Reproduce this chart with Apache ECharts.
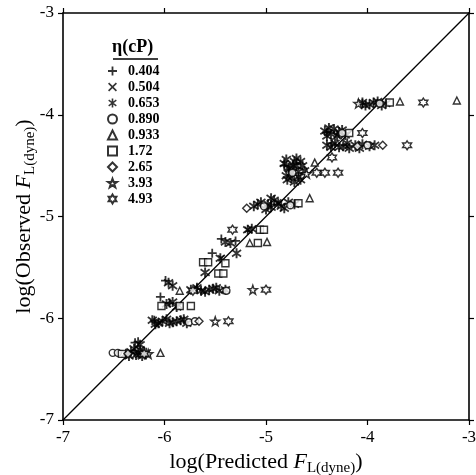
<!DOCTYPE html>
<html><head><meta charset="utf-8">
<script src="https://cdn.jsdelivr.net/npm/echarts@6/dist/echarts.min.js"></script>
<style>html,body{margin:0;padding:0;background:#fff}#c{width:476px;height:475px}</style>
</head><body><div id="c"></div>
<script>
const etaNames = ['0.404','0.504','0.653','0.890','0.933','1.72','2.65','3.93','4.93'];
const ticks = [-7,-6,-5,-4,-3];
const diag = [[-7,-7],[-3,-3]];
const s0404 = [[-6.29,-6.24],[-6.26,-6.23],[-6.20,-6.33],[-6.04,-5.79],[-5.99,-5.63],[-5.95,-5.85],[-6.10,-6.02],[-5.53,-5.36],[-5.44,-5.22],[-5.68,-5.71],[-5.30,-5.24],[-4.95,-4.88],[-4.82,-4.50],[-4.40,-4.17],[-4.35,-4.28],[-4.05,-3.89]];
const s0504 = [[-6.26,-6.36],[-6.05,-6.04],[-5.86,-5.87],[-5.62,-5.73],[-5.44,-5.41],[-5.18,-5.13],[-4.88,-4.86],[-4.75,-4.58],[-4.30,-4.20],[-4.20,-4.31],[-3.90,-3.89]];
const s0653 = [[-6.38,-6.35],[-6.33,-6.33],[-6.28,-6.36],[-6.24,-6.31],[-6.22,-6.37],[-6.18,-6.34],[-6.30,-6.30],[-6.24,-6.26],[-6.35,-6.37],[-6.26,-6.34],
 [-6.12,-6.02],[-6.06,-6.05],[-5.98,-6.01],[-5.92,-6.04],[-5.84,-6.02],[-5.78,-6.05],[-6.02,-6.03],[-5.88,-6.03],[-6.09,-6.06],[-5.95,-6.05],[-5.81,-6.01],
 [-5.96,-5.65],[-5.92,-5.68],[-5.98,-5.86],[-5.92,-5.84],[-5.88,-5.89],
 [-5.74,-5.72],[-5.68,-5.70],[-5.60,-5.74],[-5.52,-5.71],[-5.46,-5.73],[-5.40,-5.72],[-5.56,-5.72],[-5.64,-5.73],[-5.49,-5.70],
 [-5.60,-5.55],[-5.45,-5.41],[-5.29,-5.36],[-5.40,-5.25],[-5.35,-5.26],[-5.18,-5.13],[-5.14,-5.12],
 [-5.12,-4.90],[-5.05,-4.86],[-4.98,-4.88],[-4.92,-4.84],[-4.85,-4.90],[-4.78,-4.86],[-4.72,-4.88],[-5.00,-4.93],[-4.95,-4.82],[-5.08,-4.88],[-4.88,-4.87],[-4.82,-4.92],[-4.95,-4.91],
 [-4.82,-4.48],[-4.77,-4.53],[-4.72,-4.46],[-4.68,-4.56],[-4.80,-4.60],[-4.64,-4.50],[-4.75,-4.62],[-4.70,-4.43],[-4.66,-4.64],[-4.80,-4.44],[-4.73,-4.50],[-4.68,-4.61],
 [-4.78,-4.52],[-4.74,-4.57],[-4.70,-4.50],[-4.66,-4.46],[-4.62,-4.55],[-4.79,-4.64],[-4.72,-4.66],
 [-4.40,-4.30],[-4.32,-4.28],[-4.24,-4.31],[-4.12,-4.30],[-4.05,-4.29],[-3.98,-4.31],[-4.18,-4.33],[-4.36,-4.32],[-4.28,-4.32],[-4.20,-4.28],[-4.08,-4.33],[-3.93,-4.30],
 [-4.42,-4.16],[-4.36,-4.19],[-4.28,-4.17],[-4.22,-4.20],[-4.33,-4.14],[-4.40,-4.21],[-4.38,-4.13],[-4.30,-4.21],[-4.25,-4.15],
 [-4.05,-3.88],[-3.98,-3.90],[-3.90,-3.87],[-3.82,-3.89],[-4.02,-3.91],[-3.94,-3.88],[-3.86,-3.91]];
const s0890 = [[-6.51,-6.34],[-6.46,-6.34],[-5.76,-6.04],[-5.70,-6.03],[-5.39,-5.73],[-5.02,-4.90],[-4.76,-4.89],[-4.74,-4.57],[-4.25,-4.18],[-4.00,-4.30],[-3.88,-3.89]];
const s0933 = [[-6.04,-6.34],[-5.85,-5.73],[-5.16,-5.26],[-4.99,-5.25],[-4.57,-4.82],[-4.52,-4.47],[-3.68,-3.87],[-3.12,-3.86]];
const s172 = [[-6.42,-6.35],[-6.03,-5.88],[-5.85,-5.88],[-5.74,-5.88],[-5.62,-5.45],[-5.57,-5.45],[-5.40,-5.46],[-5.47,-5.56],[-5.42,-5.56],[-5.08,-5.26],[-5.06,-5.13],[-5.02,-5.13],[-4.68,-4.87],[-4.18,-4.18],[-3.78,-3.88]];
const s265 = [[-5.19,-4.92],[-3.85,-4.30],[-4.10,-4.31],[-6.36,-6.35],[-5.66,-6.03]];
const s393 = [[-6.16,-6.35],[-5.50,-6.03],[-5.13,-5.72],[-4.09,-3.89],[-4.60,-4.58]];
const s493 = [[-5.37,-6.03],[-5.00,-5.72],[-5.33,-5.13],[-4.35,-4.42],[-3.61,-4.30],[-4.05,-4.18],[-3.45,-3.88],[-4.50,-4.57],[-4.42,-4.57],[-4.29,-4.57],[-6.20,-6.35],[-5.72,-5.73]];

const FONT = '"Liberation Serif", "Times New Roman", serif';
const P_PLUS = 'path://M4,0 L6,0 L6,4 L10,4 L10,6 L6,6 L6,10 L4,10 L4,6 L0,6 L0,4 L4,4 Z';
const P_X = 'path://M1.3,0 L5,3.7 L8.7,0 L10,1.3 L6.3,5 L10,8.7 L8.7,10 L5,6.3 L1.3,10 L0,8.7 L3.7,5 L0,1.3 Z';
const P_AST = 'path://M4.1,0 L5.9,0 L5.9,10 L4.1,10 Z M0.3,2.5 L1.2,1 L9.7,7.5 L8.8,9 Z M0.3,7.5 L8.8,1 L9.7,2.5 L1.2,9 Z';
const P_STAR = 'path://M5,0 L6.2,3.4 L9.76,3.45 L6.9,5.62 L7.94,9.05 L5,7 L2.06,9.05 L3.1,5.62 L0.24,3.45 L3.8,3.4 Z';
const P_HEX = 'path://M5,0 L6.44,2.5 L9.33,2.5 L7.89,5 L9.33,7.5 L6.44,7.5 L5,10 L3.56,7.5 L0.67,7.5 L2.11,5 L0.67,2.5 L3.56,2.5 Z';

const filled = {color:'#000', borderWidth:0};
const open = {color:'#fff', borderColor:'#000', borderWidth:1.4};
const defs = [
  [s0404, P_PLUS, 9, filled],
  [s0504, P_X, 7, filled],
  [s0653, P_AST, 10, filled],
  [s0890, 'circle', 7, open],
  [s0933, 'triangle', 7, open],
  [s172, 'rect', 7, open],
  [s265, 'diamond', 8, open],
  [s393, P_STAR, 9, open],
  [s493, P_HEX, 9, open]
];
const series = defs.map((d,i)=>({
  name: etaNames[i], type:'scatter', data:d[0], symbol:d[1], symbolSize:d[2],
  itemStyle:d[3], xAxisIndex:0, yAxisIndex:0
}));
series.push({type:'line', data:diag, symbol:'none', lineStyle:{color:'#000', width:1.3}, silent:true, z:1});

const axCommon = {
  type:'value', min:ticks[0], max:ticks[ticks.length-1], interval:1,
  splitLine:{show:false},
  axisLine:{show:true, onZero:false, lineStyle:{color:'#000', width:1.6}},
  axisTick:{show:true, inside:false, length:5, lineStyle:{color:'#000', width:1.2}},
};
const nameRich = {
  n:{fontFamily:FONT, fontSize:22, lineHeight:22, verticalAlign:'top', color:'#000'},
  i:{fontFamily:FONT, fontSize:22, lineHeight:22, fontStyle:'italic', verticalAlign:'top', color:'#000'},
  s:{fontFamily:FONT, fontSize:15, lineHeight:15, padding:[10,0,0,0], verticalAlign:'top', color:'#000'}
};
const labelStyle = {color:'#000', fontFamily:FONT, fontSize:17};

const chart = echarts.init(document.getElementById('c'), null, {renderer:'canvas'});
chart.setOption({
  animation:false,
  backgroundColor:'#fff',
  grid:{left:63, right:7, top:13, bottom:55, containLabel:false, outerBoundsMode:'none'},
  xAxis:[
    Object.assign({}, axCommon, {position:'bottom',
      axisLabel:Object.assign({margin:9}, labelStyle),
      name:'{n|log(Predicted }{i|F}{s|L(dyne)}{n|)}', nameLocation:'middle', nameGap:27,
      nameTextStyle:{rich:nameRich}}),
    Object.assign({}, axCommon, {position:'top', axisLabel:{show:false}})
  ],
  yAxis:[
    Object.assign({}, axCommon, {position:'left',
      axisLabel:Object.assign({margin:9}, labelStyle),
      name:'{n|log(Observed }{i|F}{s|L(dyne)}{n|)}', nameLocation:'middle', nameGap:28, nameMoveOverlap:false,
      nameTextStyle:{rich:nameRich}}),
    Object.assign({}, axCommon, {position:'right', axisLabel:{show:false}})
  ],
  legend:{
    orient:'vertical', left:102, top:59, itemWidth:9, itemHeight:9, itemGap:2,
    data:etaNames, selectedMode:false,
    textStyle:{fontFamily:FONT, fontWeight:'bold', fontSize:14, lineHeight:14, color:'#000', padding:[0,0,0,6]}
  },
  graphic:[
    {type:'text', left:112, top:38, style:{text:'η(cP)', font:'bold 18px "Liberation Serif", serif', fill:'#000'}},
    {type:'line', shape:{x1:113, y1:59, x2:158, y2:59}, style:{stroke:'#000', lineWidth:1.5}}
  ],
  series:series
});
</script></body></html>
